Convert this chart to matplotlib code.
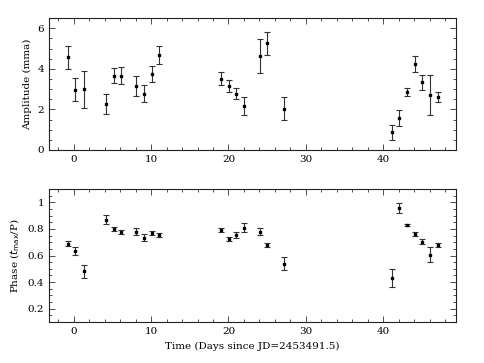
import matplotlib
matplotlib.use("Agg")
import matplotlib.pyplot as plt
from matplotlib.ticker import MultipleLocator

# days since JD=2453491.5
t = [-0.77, 0.2, 1.35, 4.16, 5.17, 6.14, 8.07, 9.08, 10.09, 11.08,
     19.1, 20.02, 21.01, 22.0, 24.07, 25.02, 27.14,
     41.1, 42.1, 43.07, 44.07, 45.06, 46.06, 47.1]

amp = [4.56, 2.98, 2.99, 2.27, 3.67, 3.67, 3.14, 2.78, 3.73, 4.69,
       3.50, 3.17, 2.78, 2.17, 4.64, 5.26, 2.04,
       0.86, 1.58, 2.86, 4.24, 3.34, 2.71, 2.60]
amp_err = [0.58, 0.57, 0.92, 0.50, 0.38, 0.40, 0.50, 0.43, 0.40, 0.45,
           0.32, 0.30, 0.26, 0.43, 0.83, 0.57, 0.56,
           0.35, 0.39, 0.20, 0.41, 0.37, 1.00, 0.25]

phase = [0.69, 0.635, 0.48, 0.87, 0.80, 0.775, 0.78, 0.735, 0.77, 0.755,
         0.795, 0.722, 0.755, 0.81, 0.78, 0.68, 0.54,
         0.43, 0.96, 0.83, 0.76, 0.705, 0.607, 0.68]
phase_err = [0.018, 0.033, 0.05, 0.034, 0.016, 0.016, 0.027, 0.027, 0.017, 0.017,
             0.015, 0.015, 0.02, 0.033, 0.027, 0.017, 0.046,
             0.066, 0.036, 0.01, 0.015, 0.018, 0.057, 0.017]

plt.rcParams['font.family'] = ['DejaVu Serif']
plt.rcParams['font.size'] = 7.5

fig = plt.figure(figsize=(4.85, 3.63), dpi=100)
ax1 = fig.add_axes([0.101, 0.587, 0.839, 0.363])
ax2 = fig.add_axes([0.101, 0.113, 0.839, 0.366])

for ax in (ax1, ax2):
    ax.set_xlim(-3.2, 49.4)
    ax.xaxis.set_major_locator(MultipleLocator(10))
    ax.xaxis.set_minor_locator(MultipleLocator(2))
    ax.tick_params(which='both', direction='in', top=True, right=True,
                   width=0.6, colors='#333333', labelcolor='black')
    ax.tick_params(which='major', length=4)
    ax.tick_params(which='minor', length=2)
    for s in ax.spines.values():
        s.set_linewidth(0.8)
        s.set_color('#222222')

ax1.errorbar(t, amp, yerr=amp_err, fmt='s', color='black', ms=2,
             ecolor='#333333', elinewidth=0.8, capsize=2, capthick=0.8)
ax1.set_ylim(0, 6.5)
ax1.yaxis.set_major_locator(MultipleLocator(2))
ax1.yaxis.set_minor_locator(MultipleLocator(0.5))
ax1.set_ylabel("Amplitude (mma)")

ax2.errorbar(t, phase, yerr=phase_err, fmt='s', color='black', ms=2,
             ecolor='#333333', elinewidth=0.8, capsize=2, capthick=0.8)
ax2.set_ylim(0.1, 1.1)
ax2.yaxis.set_major_locator(MultipleLocator(0.2))
ax2.yaxis.set_minor_locator(MultipleLocator(0.05))
ax2.set_yticks([0.2, 0.4, 0.6, 0.8, 1.0])
ax2.set_yticklabels(['0.2', '0.4', '0.6', '0.8', '1'])
ax2.set_ylabel(r"Phase ($t_{\rm max}$/P)")
ax2.set_xlabel("Time (Days since JD=2453491.5)")

fig.savefig("out.png", dpi=100)
